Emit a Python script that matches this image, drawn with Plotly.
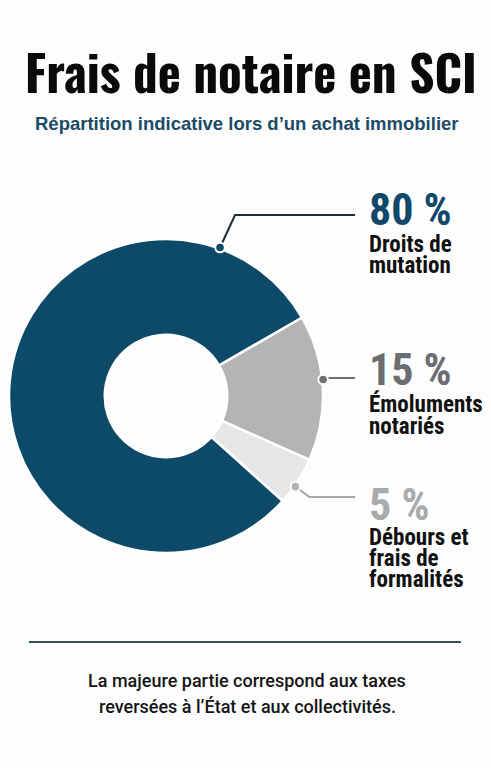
import math
import plotly.graph_objects as go

# ---------------- data ----------------
categories = ["Émoluments notariés", "Débours et frais de formalités", "Droits de mutation"]
values = [15, 5, 80]
value_labels = ["15 %", "5 %", "80 %"]
name_lines = [["Émoluments", "notariés"], ["Débours et", "frais de", "formalités"], ["Droits de", "mutation"]]

title_text = "Frais de notaire en SCI"
subtitle_text = "Répartition indicative lors d’un achat immobilier"
footer_lines = ["La majeure partie correspond aux taxes", "reversées à l’État et aux collectivités."]

# ---------------- style ----------------
W, H = 491, 768
CX, CY, R = 166, 396, 157
slice_colors = ["#b3b4b6", "#e5e6e7", "#0d4a6a"]
value_colors = ["#6b6d70", "#a8aaac", "#0f4868"]
leader_colors = ["#6c6e71", "#a4a6a8", "#1c2c38"]
dot_colors = ["#6f7174", "#b0b2b4", "#0d4a6a"]
anchor_deg = [6, -35, 70]
leader_y = [378, 497, 215]
elbow_dx = [0, 14, 15]
value_base = [385, 520, 225]
name_base = [[412, 434], [545, 566, 587], [252, 273]]
LABEL_X = 367
LEADER_END = 355
DOT_R = 4.8
COND = "Roboto Condensed"

fig = go.Figure()

fig.add_trace(go.Pie(
    labels=categories, values=values, sort=False, direction="clockwise",
    rotation=60, hole=0.39, textinfo="none", hoverinfo="none",
    marker=dict(colors=slice_colors, line=dict(color="white", width=2.5)),
    domain=dict(x=[(CX - R) / W, (CX + R) / W], y=[1 - (CY + R) / H, 1 - (CY - R) / H]),
    showlegend=False,
))

annotations = []
shapes = []
for i in range(len(values)):
    a = math.radians(anchor_deg[i])
    dx_ = CX + (R + 1) * math.cos(a)
    dy_ = CY - (R + 1) * math.sin(a)
    ex = dx_ + elbow_dx[i]
    fig.add_trace(go.Scatter(
        x=[dx_, ex, LEADER_END], y=[dy_, leader_y[i], leader_y[i]], mode="lines",
        line=dict(color=leader_colors[i], width=2), hoverinfo="skip", showlegend=False))
    shapes.append(dict(type="circle", xref="x", yref="y", layer="above",
                       x0=dx_ - DOT_R, x1=dx_ + DOT_R, y0=dy_ - DOT_R, y1=dy_ + DOT_R,
                       fillcolor=dot_colors[i], line=dict(color="white", width=2)))
    annotations.append(dict(
        x=LABEL_X, y=value_base[i] - 0.34 * 44, xref="x", yref="y", xanchor="left", yanchor="middle",
        text=value_labels[i], showarrow=False,
        font=dict(family=COND, size=44, color=value_colors[i], weight="bold")))
    for j, line in enumerate(name_lines[i]):
        annotations.append(dict(
            x=LABEL_X, y=name_base[i][j] - 0.34 * 23, xref="x", yref="y", xanchor="left", yanchor="middle",
            text=line, showarrow=False,
            font=dict(family=COND, size=23, color="#111111", weight="bold")))

annotations.append(dict(
    x=250.5, y=93 - 0.452 * 49, xref="x", yref="y", xanchor="center", yanchor="middle",
    text=title_text, showarrow=False,
    font=dict(family="Oswald", size=49, color="#0a0a0a", weight="bold")))
annotations.append(dict(
    x=247, y=130 - 0.35 * 18.5, xref="x", yref="y", xanchor="center", yanchor="middle",
    text=subtitle_text, showarrow=False,
    font=dict(family="Liberation Sans", size=18.5, color="#1b4a66", weight="bold")))
for j, (line, base) in enumerate(zip(footer_lines, [687, 713])):
    annotations.append(dict(
        x=247, y=base - 6.3, xref="x", yref="y", xanchor="center", yanchor="middle",
        text=line, showarrow=False,
        font=dict(family="Roboto", size=18, color="#151515", weight=500)))

shapes.append(dict(type="line", x0=29, x1=461, y0=642, y1=642, xref="x", yref="y",
                   line=dict(color="#35505f", width=2)))

fig.update_layout(
    width=W, height=H, margin=dict(l=0, r=0, t=0, b=0),
    paper_bgcolor="#fdfdfd", plot_bgcolor="rgba(0,0,0,0)",
    xaxis=dict(range=[0, W], visible=False, fixedrange=True, domain=[0, 1]),
    yaxis=dict(range=[H, 0], visible=False, fixedrange=True, domain=[0, 1]),
    annotations=annotations, shapes=shapes, showlegend=False,
)

fig.write_html("out.html", config={"displayModeBar": False})
